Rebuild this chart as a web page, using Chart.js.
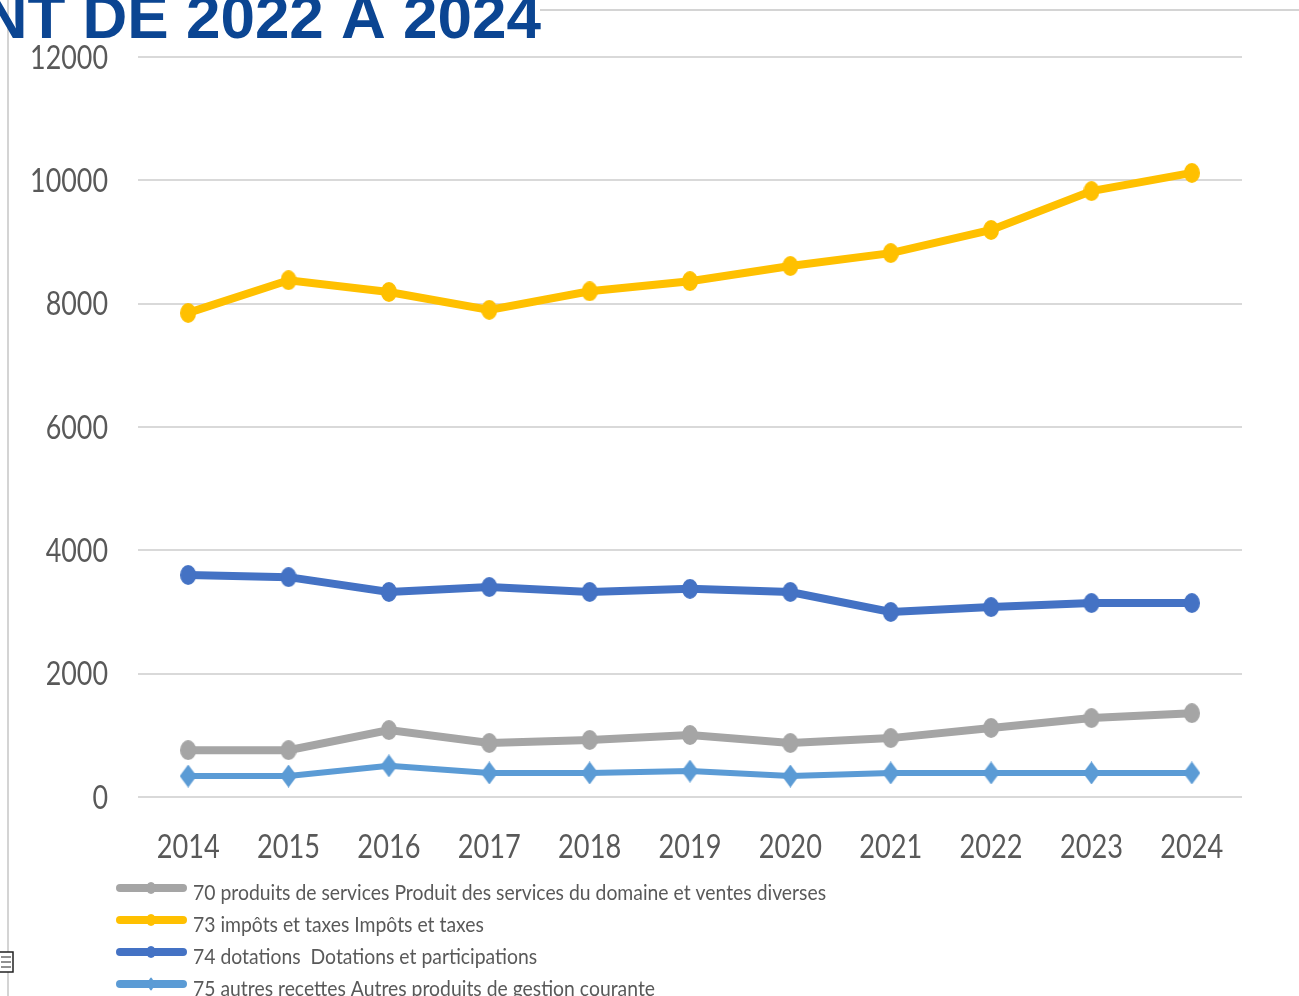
<!DOCTYPE html>
<html>
<head>
<meta charset="utf-8">
<script src="https://cdn.jsdelivr.net/npm/chart.js@4"></script>
<style>
  html, body { margin: 0; padding: 0; background: #fff; overflow: hidden; }
  #wrap { position: relative; width: 1299px; height: 996px; }
</style>
</head>
<body>
<div id="wrap"><canvas id="myChart" width="1299" height="996"></canvas></div>
<script>
// CATEGORIES + TICKS
const years = ["2014", "2015", "2016", "2017", "2018", "2019", "2020", "2021", "2022", "2023", "2024"];
const yTicks = [0, 2000, 4000, 6000, 8000, 10000, 12000];

// SERIES
const produits = [760, 760, 1085, 875, 925, 1005, 875, 955, 1120, 1280, 1360];
const impots = [7850, 8380, 8190, 7900, 8200, 8365, 8610, 8820, 9195, 9825, 10120];
const dotations = [3600, 3565, 3325, 3405, 3325, 3375, 3325, 3000, 3080, 3145, 3145];
const autres = [340, 340, 505, 390, 390, 420, 340, 390, 390, 390, 390];

const seriesLabels = [
  "70 produits de services Produit des services du domaine et ventes diverses",
  "73 impôts et taxes Impôts et taxes",
  "74 dotations  Dotations et participations",
  "75 autres recettes Autres produits de gestion courante",
];

const textFont = "Lato, 'Open Sans', sans-serif";
const textGrey = "#595959";

// MARKERS (slightly tall ellipses / diamonds like the original)
function makeMarker(color, w, h, diamond) {
  const c = document.createElement("canvas");
  c.width = w;
  c.height = h;
  const g = c.getContext("2d");
  g.fillStyle = color;
  g.beginPath();
  if (diamond) {
    g.moveTo(w / 2, 0);
    g.lineTo(w, h / 2);
    g.lineTo(w / 2, h);
    g.lineTo(0, h / 2);
    g.closePath();
  } else {
    g.ellipse(w / 2, h / 2, w / 2, h / 2, 0, 0, Math.PI * 2);
  }
  g.fill();
  return c;
}

// squished text (the original is horizontally condensed)
function squishText(ctx, text, x, y, align, size, sx) {
  ctx.save();
  ctx.font = size + "px " + textFont;
  ctx.textBaseline = "alphabetic";
  ctx.textAlign = "left";
  const w = ctx.measureText(text).width * sx;
  let left = x;
  if (align === "right") left = x - w;
  if (align === "center") left = x - w / 2;
  ctx.translate(left, y);
  ctx.scale(sx, 1);
  ctx.fillText(text, 0, 0);
  ctx.restore();
}

// TITLE + PAGE FRAME + TICK LABELS + LEGEND
const decoPlugin = {
  id: "deco",
  afterDraw(chart) {
    const ctx = chart.ctx;
    ctx.save();
    // frame lines
    ctx.strokeStyle = "#d4d4d4";
    ctx.lineWidth = 2;
    ctx.beginPath();
    ctx.moveTo(8, 0);
    ctx.lineTo(8, 996);
    ctx.moveTo(540, 10);
    ctx.lineTo(1299, 10);
    ctx.stroke();

    // cut title
    ctx.fillStyle = "#0b4592";
    ctx.font = "bold 62px 'Liberation Sans', Arial, sans-serif";
    ctx.textAlign = "right";
    ctx.textBaseline = "alphabetic";
    ctx.fillText("NT DE 2022 A 2024", 541, 38);

    // little table icon
    ctx.fillStyle = "#fff";
    ctx.fillRect(0, 952, 13, 20);
    ctx.strokeStyle = "#222";
    ctx.lineWidth = 1.5;
    ctx.strokeRect(-2, 952, 15, 20);
    ctx.lineWidth = 1;
    for (let k = 0; k < 3; k++) {
      ctx.beginPath();
      ctx.moveTo(1, 957 + k * 5);
      ctx.lineTo(11, 957 + k * 5);
      ctx.stroke();
    }

    // tick labels from the scales
    ctx.fillStyle = textGrey;
    const ys = chart.scales.y;
    ys.ticks.forEach((t) => {
      squishText(ctx, String(t.value), 108, ys.getPixelForValue(t.value) + 11.5, "right", 32, 0.84);
    });
    const xs = chart.scales.x;
    years.forEach((lab, i) => {
      squishText(ctx, lab, xs.getPixelForTick(i), 858, "center", 32, 0.85);
    });

    // legend
    chart.data.datasets.forEach((ds, i) => {
      const y = 888 + i * 32;
      ctx.strokeStyle = ds.borderColor;
      ctx.lineWidth = 8;
      ctx.lineCap = "round";
      ctx.beginPath();
      ctx.moveTo(120, y);
      ctx.lineTo(183, y);
      ctx.stroke();
      const m = ds.pointStyle;
      const mw = m.width * 0.6;
      const mh = m.height * 0.6;
      ctx.drawImage(m, 151 - mw / 2, y - mh / 2, mw, mh);
      ctx.fillStyle = textGrey;
      squishText(ctx, seriesLabels[i], 193, y + 12, "left", 22, 0.88);
    });
    ctx.restore();
  },
};

function lineSet(label, data, color, width, marker) {
  return {
    label: label,
    data: data,
    borderColor: color,
    backgroundColor: color,
    borderWidth: width,
    pointStyle: marker,
    pointRadius: 10,
    pointBorderWidth: 0,
    tension: 0,
    fill: false,
  };
}

const ctx = document.getElementById("myChart");
let myChart = new Chart(ctx, {
  type: "line",
  data: {
    labels: years,
    datasets: [
      lineSet(seriesLabels[0], produits, "#a5a5a5", 8, makeMarker("#a5a5a5", 16, 20, false)),
      lineSet(seriesLabels[1], impots, "#ffc000", 8, makeMarker("#ffc000", 16, 20, false)),
      lineSet(seriesLabels[2], dotations, "#4472c4", 8, makeMarker("#4472c4", 16, 20, false)),
      lineSet(seriesLabels[3], autres, "#5b9bd5", 6, makeMarker("#5b9bd5", 17, 23, true)),
    ],
  },
  options: {
    responsive: false,
    animation: false,
    layout: {
      padding: { left: 0, right: 57, top: 57, bottom: 119 },
    },
    plugins: {
      legend: { display: false },
      tooltip: { enabled: false },
    },
    scales: {
      x: {
        offset: true,
        grid: { display: false },
        border: { display: false },
        ticks: {
          color: "rgba(0,0,0,0)",
          font: { family: textFont, size: 30 },
          padding: 14,
          maxRotation: 0,
        },
        afterFit(scale) {
          scale.height = 80;
        },
      },
      y: {
        min: 0,
        max: 12000,
        afterBuildTicks(scale) {
          scale.ticks = yTicks.map((v) => ({ value: v }));
        },
        grid: { color: "#d9d9d9", lineWidth: 2, drawTicks: false },
        border: { display: false },
        ticks: {
          color: "rgba(0,0,0,0)",
          font: { family: textFont, size: 30 },
          padding: 30,
        },
        afterFit(scale) {
          scale.width = 138;
        },
      },
    },
  },
  plugins: [decoPlugin],
});
</script>
</body>
</html>
